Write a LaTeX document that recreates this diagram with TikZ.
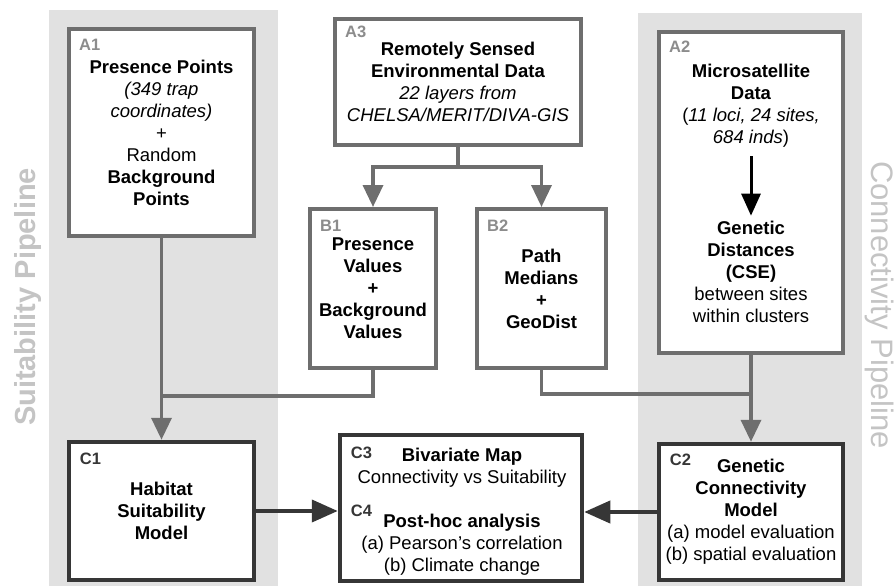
\documentclass[tikz,border=0pt]{standalone}
\usepackage{fontspec}
\setmainfont{Liberation Sans}
\usepackage{xcolor}
\usetikzlibrary{arrows.meta,positioning}

\definecolor{bandgray}{HTML}{E1E1E1}
\definecolor{linegray}{HTML}{6E6E6E}
\definecolor{darkline}{HTML}{363636}
\definecolor{taggray}{HTML}{8C8C8C}
\definecolor{pipegray}{HTML}{C4C4C4}

\begin{document}
\begin{tikzpicture}[
    x=1pt,y=-1pt,
    every node/.style={font=\fontsize{18.5}{22}\selectfont,align=center},
    box/.style={
        draw=linegray,line width=4pt,fill=white,
        inner sep=0pt
    },
    modelbox/.style={box,draw=darkline,line width=4.5pt},
    tag/.style={inner sep=0pt,font=\fontsize{16.5}{16.5}\selectfont\bfseries,text=taggray},
    darktag/.style={tag,text=darkline},
    pipe/.style={font=\fontsize{29}{29}\selectfont\bfseries,text=pipegray,anchor=base},
    conn/.style={draw=linegray,line width=3.5pt,-{Triangle[length=22pt,width=20pt]}},
    feedline/.style={draw=linegray,line width=3.5pt},
    flow/.style={draw=darkline,line width=4pt,-{Triangle[length=26pt,width=22pt]}},
    inarrow/.style={draw=black,line width=3pt,-{Triangle[length=22pt,width=19pt]}}
]
\useasboundingbox (0,0) rectangle (895,586);
\fill[bandgray] (49,10) rectangle (278,586);
\fill[bandgray] (638,13) rectangle (862,586);

\node[pipe,rotate=90] (suitlbl) at (35,297) {Suitability Pipeline};
\node[pipe,rotate=-90,font=\fontsize{31}{31}\selectfont] (connlbl) at (871,305) {Connectivity Pipeline};

\node[box,minimum width=185pt,minimum height=207pt] (a1) at (161.5,132.5)
  {\textbf{Presence Points}\\\textit{(349 trap}\\\textit{coordinates)}\\+\\Random\\\textbf{Background}\\\textbf{Points}};
\node[box,minimum width=246pt,minimum height=126pt] (a3) at (458,82)
  {\textbf{Remotely Sensed}\\\textbf{Environmental Data}\\\textit{22 layers from}\\\textit{CHELSA/MERIT/DIVA-GIS}};
\node[box,minimum width=184pt,minimum height=321pt] (a2) at (751,192.5) {};
\node (a2top) at (751,106)
  {\textbf{Microsatellite}\\\textbf{Data}\\(\textit{11 loci, 24 sites,}\\\textit{684 inds})};
\node (a2bot) at (751,272)
  {\textbf{Genetic}\\\textbf{Distances}\\\textbf{(CSE)}\\between sites\\within clusters};
\node[box,minimum width=126pt,minimum height=159pt] (b1) at (373,288.5)
  {\textbf{Presence}\\\textbf{Values}\\\textbf{+}\\\textbf{Background}\\\textbf{Values}};
\node[box,minimum width=129pt,minimum height=159pt] (b2) at (541.5,288.5)
  {\textbf{Path}\\\textbf{Medians}\\\textbf{+}\\\textbf{GeoDist}};

\node[modelbox,minimum width=185pt,minimum height=138pt] (c1) at (161.5,511)
  {\textbf{Habitat}\\\textbf{Suitability}\\\textbf{Model}};
\node[modelbox,minimum width=242pt,minimum height=146pt] (c3) at (461,508) {};
\node (c3txt) at (462,468) {\textbf{Bivariate Map}\\Connectivity vs Suitability};
\node (c4txt) at (462,545) {\textbf{Post-hoc analysis}\\(a) Pearson's correlation\\(b) Climate change};
\node[modelbox,minimum width=184pt,minimum height=136pt] (c2) at (751,512)
  {\textbf{Genetic}\\\textbf{Connectivity}\\\textbf{Model}\\(a) model evaluation\\(b) spatial evaluation};

\node[tag,below right=12pt and 12pt of a1.north west] (a1tag) {A1};
\node[tag,below right=9pt and 12pt of a3.north west] (a3tag) {A3};
\node[tag,below right=11pt and 12pt of a2.north west] (a2tag) {A2};
\node[tag,below right=13pt and 12pt of b1.north west] (b1tag) {B1};
\node[tag,below right=13pt and 12pt of b2.north west] (b2tag) {B2};
\node[darktag,below right=13pt and 13pt of c1.north west] (c1tag) {C1};
\node[darktag,below right=14pt and 13pt of c3.north west] (c3tag) {C3};
\node[darktag,below right=72pt and 13pt of c3.north west] (c4tag) {C4};
\node[darktag,below right=12pt and 13pt of c2.north west] (c2tag) {C2};

\coordinate (j1) at (161.5,396);
\coordinate (j2) at (751,394);

\draw[conn] (a3.south) -- ++(0,20) -| (b1.north);
\draw[conn] (a3.south) -- ++(0,20) -| (b2.north);
\draw[conn] (a1.south) -- (c1.north);
\draw[feedline] (b1.south) |- (j1);
\draw[conn] (a2.south) -- (c2.north);
\draw[feedline] (b2.south) |- (j2);
\draw[inarrow,shorten <=5pt,shorten >=2pt] (a2top) -- (a2bot);
\draw[flow] (c1.east) -- (c1.east -| c3.west);
\draw[flow] (c2.west) -- (c2.west -| c3.east);
\end{tikzpicture}
\end{document}
